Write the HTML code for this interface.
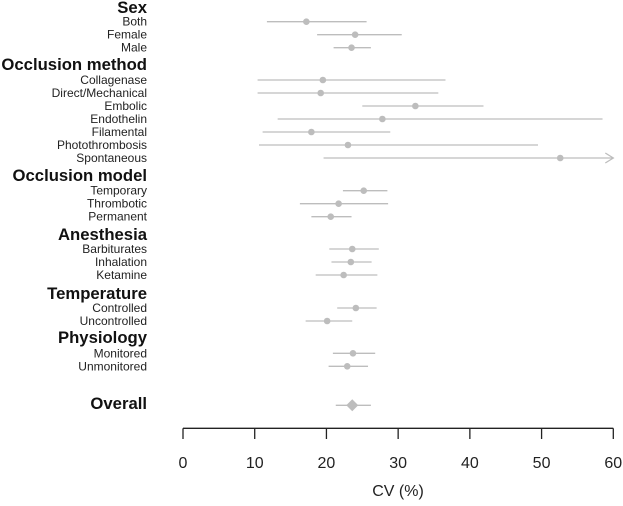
<!DOCTYPE html>
<html><head><meta charset="utf-8"><style>
html,body{margin:0;padding:0;background:#fff;width:623px;height:506px;overflow:hidden}
svg{display:block;font-family:"Liberation Sans",Arial,sans-serif}
</style></head><body>
<svg id="chart" width="623" height="506" viewBox="0 0 623 506" xmlns="http://www.w3.org/2000/svg"></svg>
<script>
const groupNames = ["Sex","Occlusion method","Occlusion model","Anesthesia","Temperature","Physiology"];
const groupY = [13,70,181,240,299,343];
const categories = ["Both","Female","Male","Collagenase","Direct/Mechanical","Embolic","Endothelin","Filamental","Photothrombosis","Spontaneous","Temporary","Thrombotic","Permanent","Barbiturates","Inhalation","Ketamine","Controlled","Uncontrolled","Monitored","Unmonitored"];
const rowY = [21.7,34.7,47.7,80,93,106,119,132,145,158,190.7,203.7,216.7,249,262,275,308,321,353.3,366.3];
const estimates = [17.2,24.0,23.5,19.5,19.2,32.4,27.8,17.9,23.0,52.6,25.2,21.7,20.6,23.6,23.4,22.4,24.1,20.1,23.7,22.9];
const lowerCI = [11.7,18.7,21.0,10.4,10.4,25.0,13.2,11.1,10.6,19.6,22.3,16.3,17.9,20.4,20.7,18.5,21.5,17.1,20.9,20.3];
const upperCI = [25.6,30.5,26.2,36.6,35.6,41.9,58.5,28.9,49.5,60,28.5,28.6,23.5,27.3,26.3,27.1,27.0,23.6,26.8,25.8];
const truncated = [false,false,false,false,false,false,false,false,false,true,false,false,false,false,false,false,false,false,false,false];
const overall = [21.3,23.6,26.2];
const overallY = 405.3;
const ticks = [0,10,20,30,40,50,60];

const svg = document.getElementById('chart');
const NS = "http://www.w3.org/2000/svg";
const x = v => 183 + v * (430.3/60);
function mk(tag, attrs, parent){const e=document.createElementNS(NS,tag);for(const k in attrs)e.setAttribute(k,attrs[k]);(parent||svg).appendChild(e);return e;}
const col = "#bdbdbd";

groupNames.forEach((g,i)=>{
  const t = mk('text',{x:147,y:groupY[i],'text-anchor':'end','font-size':16.7,'font-weight':'bold',fill:'#111'});
  t.textContent = g;
  
  
});
categories.forEach((c,i)=>{
  const y = rowY[i];
  const t = mk('text',{x:147,y:y+4,'text-anchor':'end','font-size':12,fill:'#222'});
  t.textContent = c;
  
  
  const l = mk('line',{x1:x(lowerCI[i]),x2:x(upperCI[i]),y1:y,y2:y,stroke:col,'stroke-width':1.3});
  
  
  if (truncated[i]) {
    const ax = x(upperCI[i]);
    const a = mk('polyline',{points:`${ax-8},${y-5} ${ax},${y} ${ax-8},${y+5}`,fill:'none',stroke:col,'stroke-width':1.3});
    
    
  }
  const p = mk('circle',{cx:x(estimates[i]),cy:y,r:3.3,fill:col});
  
  
});
const ot = mk('text',{x:147,y:409,'text-anchor':'end','font-size':16.7,'font-weight':'bold',fill:'#111'});
ot.textContent = "Overall";


const ol = mk('line',{x1:x(overall[0]),x2:x(overall[2]),y1:overallY,y2:overallY,stroke:col,'stroke-width':1.3});


const cx = x(overall[1]);
const d = mk('polygon',{points:`${cx-6},${overallY} ${cx},${overallY-6} ${cx+6},${overallY} ${cx},${overallY+6}`,fill:col});



const ax = mk('line',{x1:x(0),x2:x(60),y1:428.3,y2:428.3,stroke:'#222','stroke-width':1.3});


ticks.forEach(v=>{
  const tk = mk('line',{x1:x(v),x2:x(v),y1:428.3,y2:439,stroke:'#222','stroke-width':1.3});
  
  
  const tl = mk('text',{x:x(v),y:468,'text-anchor':'middle','font-size':16,fill:'#222'});
  tl.textContent = v;
  
  
});
const xt = mk('text',{x:398,y:496,'text-anchor':'middle','font-size':16,fill:'#222'});
xt.textContent = "CV (%)";


</script>
</body></html>
